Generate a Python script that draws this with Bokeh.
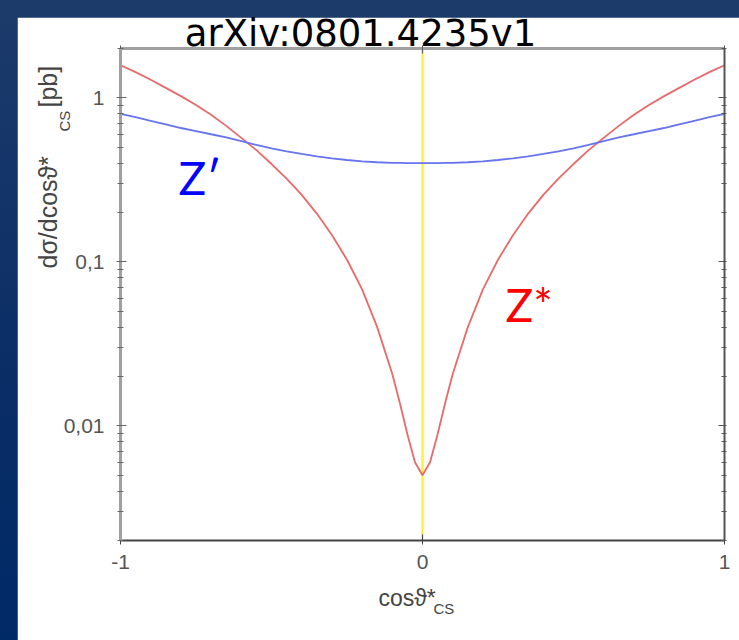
from bokeh.plotting import figure
from bokeh.models import LinearAxis, LogAxis, FixedTicker, Span, Label, Range1d
from bokeh.layouts import column
from bokeh.embed import file_html
from bokeh.resources import INLINE

# ---- data ----
cos_cs = [-1.0, -0.95, -0.9, -0.85, -0.8, -0.75, -0.7, -0.65, -0.6, -0.55, -0.5,
          -0.45, -0.4, -0.35, -0.3, -0.25, -0.2, -0.15, -0.1, -0.075, -0.05, -0.025,
          0.0,
          0.025, 0.05, 0.075, 0.1, 0.15, 0.2, 0.25, 0.3, 0.35, 0.4, 0.45,
          0.5, 0.55, 0.6, 0.65, 0.7, 0.75, 0.8, 0.85, 0.9, 0.95, 1.0]
zstar = [1.58, 1.435, 1.29, 1.15, 1.025, 0.905, 0.79, 0.675, 0.57, 0.48, 0.395,
         0.322, 0.256, 0.197, 0.146, 0.103, 0.068, 0.040, 0.0207, 0.0138, 0.0089, 0.0060,
         0.0050,
         0.0060, 0.0089, 0.0138, 0.0207, 0.040, 0.068, 0.103, 0.146, 0.197, 0.256, 0.322,
         0.395, 0.48, 0.57, 0.675, 0.79, 0.905, 1.025, 1.15, 1.29, 1.435, 1.58]
zprime = [0.80, 0.762, 0.725, 0.69, 0.655, 0.627, 0.60, 0.575, 0.545, 0.516, 0.492,
          0.472, 0.455, 0.44, 0.428, 0.418, 0.41, 0.405, 0.402, 0.401, 0.400, 0.400,
          0.400,
          0.400, 0.400, 0.401, 0.402, 0.405, 0.41, 0.418, 0.428, 0.44, 0.455, 0.472,
          0.492, 0.516, 0.545, 0.575, 0.60, 0.627, 0.655, 0.69, 0.725, 0.762, 0.80]

x_ticks = [-1, 0, 1]
x_tick_labels = ["-1", "0", "1"]
y_ticks = [0.01, 0.1, 1]
y_tick_labels = ["0,01", "0,1", "1"]
y_minor = [0.002, 0.003, 0.004, 0.005, 0.006, 0.007, 0.008, 0.009,
           0.02, 0.03, 0.04, 0.05, 0.06, 0.07, 0.08, 0.09,
           0.2, 0.3, 0.4, 0.5, 0.6, 0.7, 0.8, 0.9, 2]

title_text = "arXiv:0801.4235v1"
label_zprime = "Z\u2032"
label_zstar = "Z*"

FONT = "Liberation Sans"

p = figure(width=722, height=623, y_axis_type="log",
           x_range=Range1d(-1, 1), y_range=Range1d(0.002, 2),
           output_backend="svg", toolbar_location=None,
           min_border_left=103, min_border_right=15, min_border_top=31, min_border_bottom=100,
           background_fill_color="white", border_fill_color="white",
           outline_line_color=None)
p.xgrid.visible = False
p.ygrid.visible = False
p.margin = (17, 0, 0, 17)
p.frame_align = False

# yellow vertical line at 0
p.add_layout(Span(location=0, dimension="height", line_color="#fff23a",
                  line_width=2.5, level="underlay"))

p.line(cos_cs, zstar, line_color="#e86a6a", line_width=1.8)
p.line(cos_cs, zprime, line_color="#6674ee", line_width=1.8)

# bottom axis
xa = p.xaxis[0]
xa.ticker = FixedTicker(ticks=x_ticks)
xa.major_label_overrides = dict(zip(x_ticks, x_tick_labels))
xa.axis_line_color = "#444444"
xa.axis_line_width = 2
xa.major_tick_line_color = "#444444"
xa.major_tick_in = 6
xa.major_tick_out = 4
xa.minor_tick_line_color = None
xa.major_label_standoff = 10
xa.major_label_text_font = FONT
xa.major_label_text_font_size = "21px"
xa.major_label_text_color = "#555555"

# left axis
ya = p.yaxis[0]
ya.ticker = FixedTicker(ticks=y_ticks, minor_ticks=y_minor)
ya.major_label_overrides = dict(zip(y_ticks, y_tick_labels))
ya.axis_line_color = "#a0a0a0"
ya.axis_line_width = 3
ya.major_tick_line_color = "#666666"
ya.major_tick_in = 6
ya.major_tick_out = 4
ya.minor_tick_line_color = "#666666"
ya.minor_tick_in = 3
ya.minor_tick_out = 3
ya.major_label_standoff = 12
ya.major_label_text_font = FONT
ya.major_label_text_font_size = "21px"
ya.major_label_text_color = "#555555"

# top axis (ticks only, labels invisible)
ta = LinearAxis(ticker=FixedTicker(ticks=x_ticks), axis_line_color="#a0a0a0", axis_line_width=3,
                major_tick_line_color="#555555", major_tick_in=5, major_tick_out=3,
                minor_tick_line_color=None, major_label_text_font_size="2px",
                major_label_text_alpha=0, major_label_standoff=0)
p.add_layout(ta, "above")

# right axis (ticks only, labels invisible)
ra = LogAxis(ticker=FixedTicker(ticks=y_ticks, minor_ticks=y_minor), axis_line_color="#555555",
             axis_line_width=2, major_tick_line_color="#555555", major_tick_in=6, major_tick_out=2,
             minor_tick_line_color="#555555", minor_tick_in=3, minor_tick_out=2,
             major_label_text_font_size="2px", major_label_text_alpha=0, major_label_standoff=0)
p.add_layout(ra, "right")

# ---- transparent overlay figure for texts (page pixel coordinates, y downwards) ----
t = figure(width=739, height=640, x_range=Range1d(0, 739), y_range=Range1d(640, 0),
           x_axis_location=None, y_axis_location=None,
           output_backend="svg", toolbar_location=None,
           min_border_left=0, min_border_right=0, min_border_top=0, min_border_bottom=0,
           background_fill_alpha=0, border_fill_alpha=0, outline_line_color=None)
t.xgrid.visible = False
t.ygrid.visible = False
t.margin = (-640, 0, 0, 0)
t.frame_align = False


def txt(x, y, text, font, size, color, angle=0, align="left"):
    t.add_layout(Label(x=x, y=y, text=text, text_font=font, text_font_size=size,
                       text_color=color, text_align=align, text_baseline="alphabetic",
                       angle=angle, angle_units="deg"))


txt(360, 33, title_text, "DejaVu Sans", "37px", "#000000", align="center")
txt(178, 177, label_zprime, "Lato", "46px", "#0000ff")
txt(505, 304, label_zstar, "Lato", "46px", "#ff0000")

# x axis title: cos theta*_CS
txt(378, 597, "cos\u03d1*", FONT, "23px", "#444444")
txt(433, 608, "CS", FONT, "15px", "#444444")

# y axis title: dsigma/dcos theta*_CS [pb]
txt(47, 268, "d\u03c3/dcos\u03d1*", FONT, "25px", "#444444", angle=90)
txt(64, 131, "CS", FONT, "15px", "#444444", angle=90)
txt(47, 107, "[pb]", FONT, "25px", "#444444", angle=90)

layout = column(p, t, width=739, height=640, sizing_mode="fixed",
                styles={"background": "linear-gradient(180deg, #1c3b6b 0%, #0a2d66 60%, #002a66 100%)"})

open("out.html", "w").write(file_html(layout, INLINE))
